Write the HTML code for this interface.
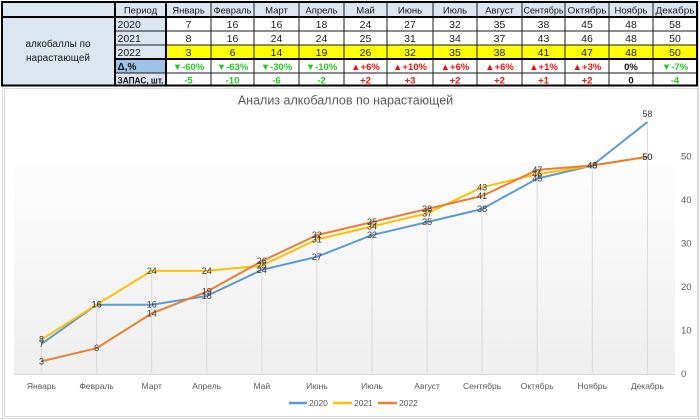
<!DOCTYPE html>
<html><head><meta charset="utf-8">
<style>
html,body{margin:0;padding:0;background:#fff;}
body{width:700px;height:420px;overflow:hidden;position:relative;font-family:"Liberation Sans","DejaVu Sans",sans-serif;}
svg{position:absolute;left:0;top:0;}
</style></head><body>
<svg width="700" height="420" viewBox="0 0 700 420" xmlns="http://www.w3.org/2000/svg" font-family="Liberation Sans, DejaVu Sans, sans-serif">
<rect x="0" y="0" width="700" height="420" fill="#ffffff"/>
<g stroke="#dcdcdc" stroke-width="1">
<line x1="2.5" y1="86" x2="2.5" y2="420"/>
<line x1="698.5" y1="0" x2="698.5" y2="420"/>
<line x1="0" y1="418.5" x2="700" y2="418.5"/>
<line x1="115" y1="86" x2="115" y2="89"/><line x1="166" y1="86" x2="166" y2="89"/>
<line x1="211" y1="86" x2="211" y2="89"/><line x1="254" y1="86" x2="254" y2="89"/>
<line x1="299" y1="86" x2="299" y2="89"/><line x1="344" y1="86" x2="344" y2="89"/>
<line x1="387" y1="86" x2="387" y2="89"/><line x1="433" y1="86" x2="433" y2="89"/>
<line x1="477" y1="86" x2="477" y2="89"/><line x1="522" y1="86" x2="522" y2="89"/>
<line x1="565" y1="86" x2="565" y2="89"/><line x1="609" y1="86" x2="609" y2="89"/>
<line x1="653" y1="86" x2="653" y2="89"/>
</g>

<!-- TABLE -->
<rect x="2" y="2" width="113" height="84" fill="#dce6f1"/>
<rect x="115" y="2" width="582" height="15" fill="#dce6f1"/>
<rect x="115" y="17" width="51" height="42" fill="#dce6f1"/>
<rect x="115" y="59" width="51" height="14" fill="#9dc3e6"/>
<rect x="115" y="73" width="51" height="13" fill="#dce6f1"/>
<rect x="166" y="17" width="531" height="69" fill="#ffffff"/>
<rect x="166" y="45" width="531" height="14" fill="#ffff00"/>
<g stroke="#1a1a1a" stroke-width="1">
<line x1="115" y1="31" x2="697" y2="31"/>
<line x1="115" y1="45" x2="697" y2="45"/>
<line x1="115" y1="73" x2="697" y2="73"/>
<line x1="211" y1="2" x2="211" y2="86"/><line x1="254" y1="2" x2="254" y2="86"/>
<line x1="299" y1="2" x2="299" y2="86"/><line x1="344" y1="2" x2="344" y2="86"/>
<line x1="387" y1="2" x2="387" y2="86"/><line x1="433" y1="2" x2="433" y2="86"/>
<line x1="477" y1="2" x2="477" y2="86"/><line x1="522" y1="2" x2="522" y2="86"/>
<line x1="565" y1="2" x2="565" y2="86"/><line x1="609" y1="2" x2="609" y2="86"/>
<line x1="653" y1="2" x2="653" y2="86"/>
</g>
<g stroke="#000" stroke-width="2">
<line x1="2" y1="17" x2="697" y2="17"/>
<line x1="115" y1="59" x2="697" y2="59"/>
<line x1="115" y1="2" x2="115" y2="86"/>
<line x1="166" y1="2" x2="166" y2="86"/>
</g>
<rect x="2" y="2" width="695" height="83.5" fill="none" stroke="#000" stroke-width="2"/>

<g font-size="9.5" fill="#1a1a1a" text-anchor="middle">
<text x="140.5" y="13.5">Период</text>
<text x="188.5" y="13.5">Январь</text>
<text x="232.5" y="13.5" textLength="38" lengthAdjust="spacingAndGlyphs">Февраль</text>
<text x="276.5" y="13.5">Март</text>
<text x="321.5" y="13.5">Апрель</text>
<text x="365.5" y="13.5">Май</text>
<text x="410" y="13.5">Июнь</text>
<text x="455" y="13.5">Июль</text>
<text x="499.5" y="13.5">Август</text>
<text x="543.5" y="13.5" textLength="40" lengthAdjust="spacingAndGlyphs">Сентябрь</text>
<text x="587" y="13.5" textLength="39" lengthAdjust="spacingAndGlyphs">Октябрь</text>
<text x="631" y="13.5">Ноябрь</text>
<text x="675" y="13.5" textLength="39" lengthAdjust="spacingAndGlyphs">Декабрь</text>
</g>
<g font-size="10" fill="#1a1a1a" text-anchor="middle">
<text x="58" y="47">алкобаллы по</text>
<text x="58" y="61">нарастающей</text>
</g>
<g font-size="10.5" fill="#1a1a1a">
<text x="117.5" y="28">2020</text>
<text x="117.5" y="42">2021</text>
<text x="117.5" y="56">2022</text>
</g>
<g fill="#111" font-weight="bold">
<text x="117.5" y="70" font-size="10">Δ,%</text>
<text x="117.5" y="83.5" font-size="9" textLength="46" lengthAdjust="spacingAndGlyphs">ЗАПАС, шт.</text>
</g>
<g font-size="10.5" fill="#1a1a1a" text-anchor="middle">
<text x="188.5" y="28">7</text><text x="232.5" y="28">16</text><text x="276.5" y="28">16</text><text x="321.5" y="28">18</text>
<text x="365.5" y="28">24</text><text x="410" y="28">27</text><text x="455" y="28">32</text><text x="499.5" y="28">35</text>
<text x="543.5" y="28">38</text><text x="587" y="28">45</text><text x="631" y="28">48</text><text x="675" y="28">58</text>

<text x="188.5" y="42">8</text><text x="232.5" y="42">16</text><text x="276.5" y="42">24</text><text x="321.5" y="42">24</text>
<text x="365.5" y="42">25</text><text x="410" y="42">31</text><text x="455" y="42">34</text><text x="499.5" y="42">37</text>
<text x="543.5" y="42">43</text><text x="587" y="42">46</text><text x="631" y="42">48</text><text x="675" y="42">50</text>

<text x="188.5" y="56">3</text><text x="232.5" y="56">6</text><text x="276.5" y="56">14</text><text x="321.5" y="56">19</text>
<text x="365.5" y="56">26</text><text x="410" y="56">32</text><text x="455" y="56">35</text><text x="499.5" y="56">38</text>
<text x="543.5" y="56">41</text><text x="587" y="56">47</text><text x="631" y="56">48</text><text x="675" y="56">50</text>
</g>
<g font-size="9.5" font-weight="bold" text-anchor="middle">
<text x="188.5" y="70" fill="#22cc22">▼-60%</text>
<text x="232.5" y="70" fill="#22cc22">▼-63%</text>
<text x="276.5" y="70" fill="#22cc22">▼-30%</text>
<text x="321.5" y="70" fill="#22cc22">▼-10%</text>
<text x="365.5" y="70" fill="#ee1111">▲+6%</text>
<text x="410" y="70" fill="#ee1111">▲+10%</text>
<text x="455" y="70" fill="#ee1111">▲+6%</text>
<text x="499.5" y="70" fill="#ee1111">▲+6%</text>
<text x="543.5" y="70" fill="#ee1111">▲+1%</text>
<text x="587" y="70" fill="#ee1111">▲+3%</text>
<text x="631" y="70" fill="#111">0%</text>
<text x="675" y="70" fill="#22cc22">▼-7%</text>
</g>
<g font-size="9.5" font-weight="bold" text-anchor="middle">
<text x="188.5" y="83.5" fill="#22cc22">-5</text>
<text x="232.5" y="83.5" fill="#22cc22">-10</text>
<text x="276.5" y="83.5" fill="#22cc22">-6</text>
<text x="321.5" y="83.5" fill="#22cc22">-2</text>
<text x="365.5" y="83.5" fill="#ee1111">+2</text>
<text x="410" y="83.5" fill="#ee1111">+3</text>
<text x="455" y="83.5" fill="#ee1111">+2</text>
<text x="499.5" y="83.5" fill="#ee1111">+2</text>
<text x="543.5" y="83.5" fill="#ee1111">+1</text>
<text x="587" y="83.5" fill="#ee1111">+2</text>
<text x="631" y="83.5" fill="#111">0</text>
<text x="675" y="83.5" fill="#22cc22">-4</text>
</g>

<!-- CHART -->
<defs>
<linearGradient id="pg" x1="0" y1="0" x2="0" y2="1">
<stop offset="0" stop-color="#fdfdfd"/>
<stop offset="1" stop-color="#efefef"/>
</linearGradient>
</defs>
<rect x="4.5" y="88.5" width="693" height="328" fill="#ffffff" stroke="#d9d9d9" stroke-width="1"/>
<rect x="14" y="165" width="661" height="209.3" fill="url(#pg)"/>
<line x1="14" y1="374.5" x2="675" y2="374.5" stroke="#d9d9d9" stroke-width="1"/>

<text x="345.5" y="104.5" font-size="12.5" fill="#595959" text-anchor="middle">Анализ алкобаллов по нарастающей</text>

<g stroke="#d9d9d9" stroke-width="1">
<line x1="41.5" y1="339.5" x2="41.5" y2="374"/>
<line x1="96.6" y1="304.7" x2="96.6" y2="374"/>
<line x1="151.7" y1="270.9" x2="151.7" y2="374"/>
<line x1="206.7" y1="270.9" x2="206.7" y2="374"/>
<line x1="261.8" y1="261.2" x2="261.8" y2="374"/>
<line x1="316.9" y1="235.1" x2="316.9" y2="374"/>
<line x1="372" y1="222.1" x2="372" y2="374"/>
<line x1="427.1" y1="209" x2="427.1" y2="374"/>
<line x1="482.1" y1="187.3" x2="482.1" y2="374"/>
<line x1="537.2" y1="169.9" x2="537.2" y2="374"/>
<line x1="592.3" y1="165.5" x2="592.3" y2="374"/>
<line x1="647.4" y1="122" x2="647.4" y2="374"/>
</g>

<polyline fill="none" stroke="#5b9bd5" stroke-width="2" stroke-linejoin="round"
points="41.5,343.9 96.6,304.7 151.7,304.7 206.7,296 261.8,269.9 316.9,256.8 372,235.1 427.1,222.1 482.1,209 537.2,178.6 592.3,165.5 647.4,122"/>
<polyline fill="none" stroke="#ffc000" stroke-width="2" stroke-linejoin="round"
points="41.5,339.5 96.6,304.7 151.7,270.9 206.7,270.9 261.8,265.6 316.9,239.5 372,226.4 427.1,213.4 482.1,187.3 537.2,174.2 592.3,165.5 647.4,156.8"/>
<polyline fill="none" stroke="#ed7d31" stroke-width="2" stroke-linejoin="round"
points="41.5,361.3 96.6,348.2 151.7,313.4 206.7,291.7 261.8,261.2 316.9,235.1 372,222.1 427.1,209 482.1,196 537.2,169.9 592.3,165.5 647.4,156.8"/>

<g font-size="9" fill="#3a3a3a" text-anchor="middle" dominant-baseline="central">
<text x="41.5" y="343.9">7</text><text x="96.6" y="304.7">16</text><text x="151.7" y="304.7">16</text><text x="206.7" y="296">18</text>
<text x="261.8" y="269.9">24</text><text x="316.9" y="256.8">27</text><text x="372" y="235.1">32</text><text x="427.1" y="222.1">35</text>
<text x="482.1" y="209">38</text><text x="537.2" y="178.6">45</text><text x="592.3" y="165.5">48</text><text x="647.4" y="114">58</text>
<text x="41.5" y="339.5">8</text><text x="96.6" y="304.7">16</text><text x="151.7" y="270.9">24</text><text x="206.7" y="270.9">24</text>
<text x="261.8" y="265.6">25</text><text x="316.9" y="239.5">31</text><text x="372" y="226.4">34</text><text x="427.1" y="213.4">37</text>
<text x="482.1" y="187.3">43</text><text x="537.2" y="174.2">46</text><text x="592.3" y="165.5">48</text><text x="647.4" y="156.8">50</text>
<text x="41.5" y="361.3">3</text><text x="96.6" y="348.2">6</text><text x="151.7" y="313.4">14</text><text x="206.7" y="291.7">19</text>
<text x="261.8" y="261.2">26</text><text x="316.9" y="235.1">32</text><text x="372" y="222.1">35</text><text x="427.1" y="209">38</text>
<text x="482.1" y="196">41</text><text x="537.2" y="169.9">47</text><text x="592.3" y="165.5">48</text><text x="647.4" y="156.8">50</text>
</g>

<g font-size="9.5" fill="#595959" dominant-baseline="central">
<text x="681" y="374.3">0</text>
<text x="681" y="330.8">10</text>
<text x="681" y="287.3">20</text>
<text x="681" y="243.8">30</text>
<text x="681" y="200.3">40</text>
<text x="681" y="156.8">50</text>
</g>

<g font-size="8.5" fill="#595959" text-anchor="middle">
<text x="41.5" y="389">Январь</text>
<text x="96.6" y="389">Февраль</text>
<text x="151.7" y="389">Март</text>
<text x="206.7" y="389">Апрель</text>
<text x="261.8" y="389">Май</text>
<text x="316.9" y="389">Июнь</text>
<text x="372" y="389">Июль</text>
<text x="427.1" y="389">Август</text>
<text x="482.1" y="389">Сентябрь</text>
<text x="537.2" y="389">Октябрь</text>
<text x="592.3" y="389">Ноябрь</text>
<text x="647.4" y="389">Декабрь</text>
</g>

<g stroke-width="2.5">
<line x1="289" y1="403" x2="307" y2="403" stroke="#5b9bd5"/>
<line x1="333" y1="403" x2="352" y2="403" stroke="#ffc000"/>
<line x1="378" y1="403" x2="397" y2="403" stroke="#ed7d31"/>
</g>
<g font-size="8.5" fill="#595959" dominant-baseline="central">
<text x="309" y="403">2020</text>
<text x="354" y="403">2021</text>
<text x="399" y="403">2022</text>
</g>
</svg>
</body></html>
